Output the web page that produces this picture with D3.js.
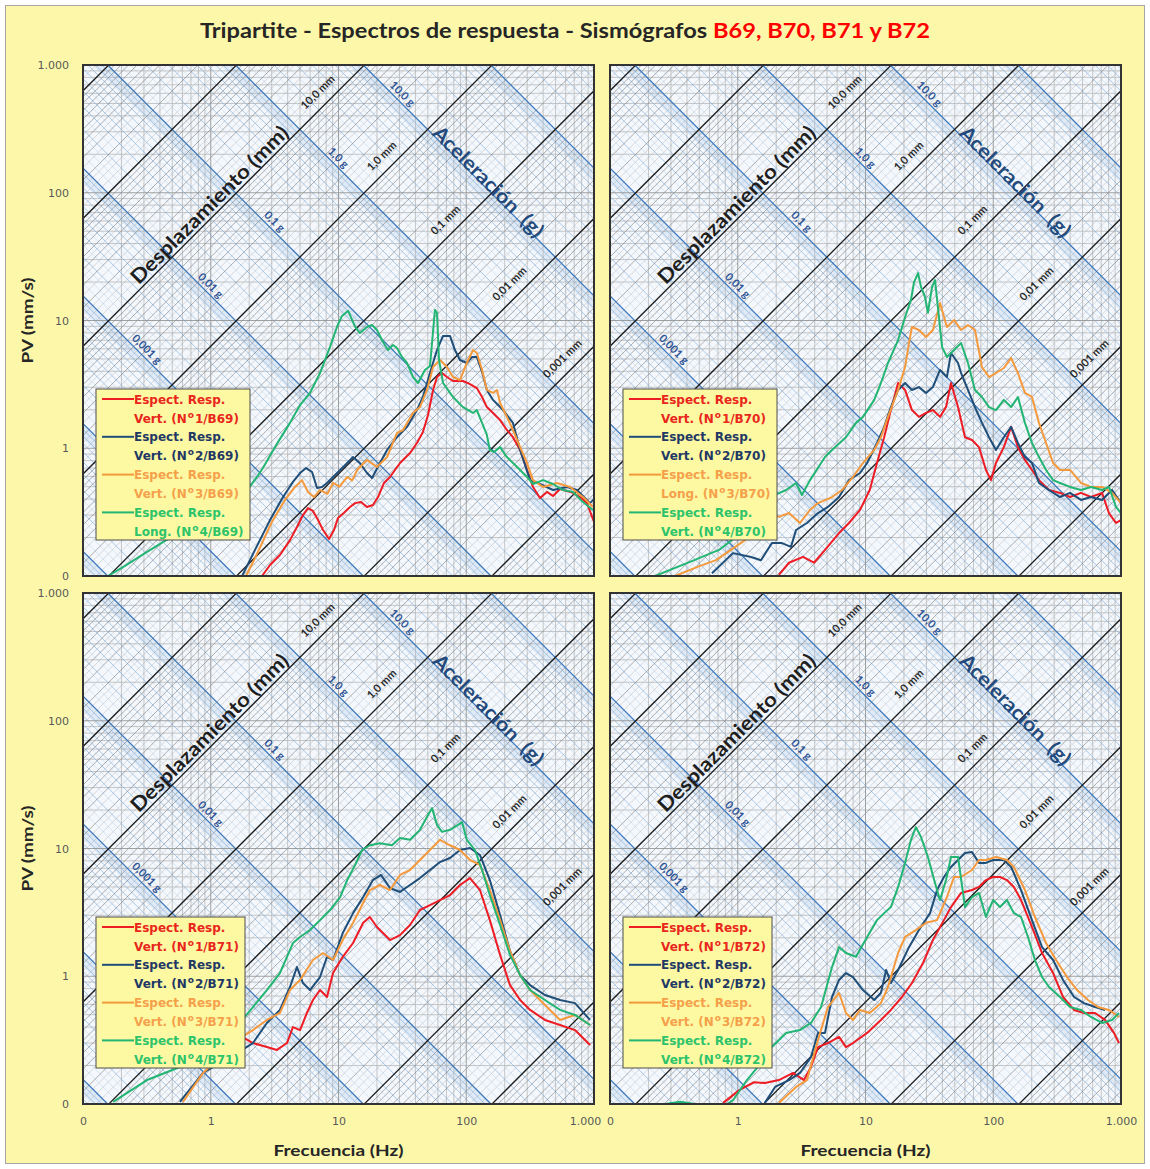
<!DOCTYPE html>
<html><head><meta charset="utf-8">
<script src="https://cdn.jsdelivr.net/npm/d3@7"></script>
<style>
body{margin:0;background:#fff;}
</style></head><body>
<svg id="chart" width="1150" height="1169"></svg>
<script>
// Response spectra, [frequency (Hz), pseudo-velocity (mm/s)]
const b69Red=[[2.52,0.1],[2.91,0.122],[3.48,0.146],[4.17,0.191],[4.73,0.242],[5.27,0.30],[5.77,0.34],[6.31,0.323],[6.92,0.274],[7.57,0.229],[8.43,0.195],[9.22,0.229],[9.91,0.284],[11.0,0.311],[12.3,0.347],[13.5,0.372],[15.0,0.379],[16.7,0.347],[18.6,0.36],[20.4,0.415],[22.7,0.535],[25.3,0.596],[30.3,0.767],[36.3,0.918],[41.1,1.10],[45.8,1.34],[50.2,1.82],[55.0,2.86],[59.0,3.61],[64.6,3.88],[70.6,3.61],[78.7,3.36],[94.3,3.36],[107,3.18],[121,2.96],[133,2.52],[145,2.10],[162,1.89],[184,1.66],[208,1.39],[232,1.22],[264,0.97],[299,0.676],[333,0.498],[378,0.408],[429,0.455],[478,0.423],[542,0.48],[615,0.463],[685,0.447],[777,0.415],[881,0.372],[1000,0.265]];
const b69Blue=[[1.76,0.1],[2.22,0.16],[2.91,0.274],[3.68,0.415],[4.40,0.545],[5.0,0.64],[5.57,0.70],[6.21,0.652],[6.79,0.489],[7.43,0.498],[8.13,0.535],[9.06,0.596],[10.3,0.676],[11.7,0.767],[13.0,0.853],[14.7,0.767],[16.7,0.64],[18.3,0.585],[21.1,0.767],[24.0,0.97],[28.7,1.22],[34.4,1.47],[41.1,1.99],[45.8,2.52],[52.0,3.88],[59.0,5.87],[65.8,7.57],[74.6,7.57],[81.6,5.87],[89.3,4.91],[101,4.65],[111,5.18],[121,5.18],[133,3.95],[145,2.86],[162,2.39],[194,1.99],[232,1.58],[264,0.97],[316,0.563],[378,0.525],[478,0.471],[615,0.498],[736,0.471],[931,0.372],[1000,0.40]];
const b69Orange=[[1.89,0.1],[2.34,0.154],[3.01,0.265],[3.81,0.394],[4.57,0.498],[5.18,0.563],[5.77,0.455],[6.43,0.415],[7.17,0.471],[8.2,0.44],[9.06,0.535],[10.2,0.50],[11.7,0.596],[12.8,0.56],[14.0,0.676],[16.7,0.81],[20.0,0.713],[24.0,0.853],[28.7,1.32],[32.0,1.39],[38.3,1.89],[43.4,2.10],[49.3,2.86],[55.0,4.32],[62.3,4.91],[70.6,4.32],[78.7,3.61],[89.3,3.42],[101,4.65],[113,5.87],[121,5.57],[133,4.10],[145,2.86],[162,2.71],[174,2.86],[184,2.26],[208,1.76],[232,1.39],[264,1.02],[299,0.767],[333,0.563],[399,0.498],[513,0.535],[649,0.498],[820,0.415],[982,0.347]];
const b69Green=[[0.157,0.1],[0.213,0.12],[0.306,0.151],[0.438,0.188],[0.688,0.238],[1.08,0.30],[1.69,0.394],[2.30,0.596],[2.56,0.70],[3.18,1.02],[4.17,1.58],[5.0,2.18],[5.98,2.71],[7.17,3.88],[8.58,6.21],[9.73,8.9],[10.6,10.8],[11.9,11.9],[13.5,8.9],[14.7,7.98],[16.7,8.9],[18.3,9.22],[20.0,8.43],[22.3,6.79],[24.4,5.87],[26.7,6.43],[28.7,6.09],[31.4,5.18],[34.4,4.65],[38.3,3.61],[41.9,3.24],[47.5,4.10],[52.0,4.40],[56.9,12.1],[59.0,11.5],[61.2,4.91],[65.8,3.24],[71.9,2.86],[78.7,2.52],[94.3,2.10],[113,1.89],[121,1.99],[133,1.58],[145,1.27],[153,0.97],[165,0.935],[184,1.02],[208,0.853],[250,0.713],[299,0.596],[333,0.525],[399,0.563],[478,0.525],[572,0.471],[685,0.455],[820,0.379],[982,0.329]];

const b70Red=[[2.10,0.102],[2.52,0.127],[3.24,0.141],[3.95,0.127],[4.82,0.16],[6.21,0.217],[7.43,0.26],[9.06,0.329],[10.8,0.471],[12.3,0.767],[14.0,1.22],[15.8,1.99],[18.0,3.24],[20.4,2.86],[23.1,1.99],[26.2,1.76],[29.8,1.89],[33.7,1.99],[38.3,1.76],[42.7,2.10],[46.7,3.24],[53.0,2.10],[60.1,1.22],[68.2,1.16],[77.3,1.02],[87.7,0.676],[95.9,0.563],[105,0.767],[121,1.02],[138,1.47],[156,1.02],[177,0.81],[201,0.676],[228,0.563],[273,0.471],[333,0.447],[399,0.415],[486,0.447],[582,0.415],[710,0.447],[805,0.311],[914,0.26],[1000,0.274]];
const b70Blue=[[0.628,0.105],[0.918,0.151],[1.27,0.141],[1.52,0.133],[1.85,0.181],[2.22,0.181],[2.61,0.169],[2.86,0.229],[3.48,0.26],[4.25,0.311],[5.08,0.347],[6.21,0.415],[7.43,0.563],[9.06,0.64],[10.3,0.767],[12.3,1.10],[14.0,1.47],[15.8,2.10],[18.0,2.86],[20.4,3.24],[23.1,2.86],[26.2,3.01],[29.8,2.71],[33.7,3.01],[38.3,4.10],[43.4,3.61],[46.7,5.57],[53.0,4.65],[56.0,3.88],[63.4,2.86],[71.9,2.10],[81.6,1.58],[92.7,1.22],[105,0.97],[121,1.22],[138,1.47],[156,1.10],[177,0.853],[201,0.767],[228,0.535],[273,0.471],[333,0.415],[399,0.447],[486,0.394],[582,0.415],[710,0.394],[851,0.471],[1000,0.372]];
const b70Orange=[[0.323,0.1],[0.507,0.12],[0.676,0.133],[1.14,0.191],[1.79,0.311],[2.10,0.29],[2.52,0.311],[3.07,0.26],[3.68,0.329],[4.25,0.372],[5.47,0.415],[6.55,0.471],[7.98,0.596],[9.55,0.767],[11.7,0.97],[13.2,1.22],[15.0,1.76],[18.0,2.86],[20.4,4.32],[21.9,6.67],[23.1,8.9],[26.2,8.43],[29.8,7.43],[33.7,8.43],[38.3,13.7],[43.4,8.9],[49.3,10.1],[56.0,8.43],[63.4,9.22],[71.9,8.43],[81.6,4.32],[92.7,3.61],[105,3.88],[121,4.25],[138,5.08],[156,3.88],[177,2.71],[201,2.52],[228,1.58],[259,1.10],[294,0.767],[333,0.676],[399,0.676],[486,0.535],[582,0.498],[710,0.498],[851,0.447],[1000,0.372]];
const b70Green=[[0.225,0.1],[0.423,0.129],[0.713,0.16],[1.14,0.229],[1.79,0.415],[2.39,0.471],[2.86,0.535],[3.18,0.431],[3.68,0.563],[4.82,0.853],[5.47,0.97],[7.03,1.22],[8.43,1.58],[9.55,1.76],[11.7,2.39],[13.2,3.24],[15.0,4.65],[18.0,7.03],[20.4,10.6],[22.7,14.5],[24.0,20.0],[25.8,23.5],[27.2,18.3],[29.2,15.3],[30.8,11.5],[33.2,18.3],[35.0,20.7],[37.6,10.6],[39.7,6.21],[43.4,5.18],[49.3,5.87],[56.0,6.67],[63.4,4.65],[71.9,2.86],[81.6,2.52],[92.7,2.10],[105,1.99],[121,2.39],[138,2.10],[156,2.52],[177,1.58],[201,1.10],[228,0.853],[259,0.676],[294,0.563],[333,0.535],[399,0.498],[486,0.471],[582,0.498],[710,0.471],[805,0.498],[914,0.347],[1000,0.311]];

const b71Red=[[1.08,0.347],[1.76,0.335],[2.14,0.30],[2.75,0.279],[3.30,0.265],[3.95,0.30],[4.40,0.40],[5.0,0.379],[5.66,0.516],[6.31,0.652],[7.17,0.78],[8.13,0.688],[9.06,1.06],[10.8,1.42],[13.0,1.82],[15.6,2.62],[17.6,2.91],[20.0,2.43],[25.3,1.92],[30.3,2.10],[36.3,2.52],[43.4,3.30],[52.0,3.61],[62.3,3.95],[74.6,4.32],[89.3,5.18],[107,5.87],[128,4.73],[153,2.75],[184,1.47],[220,0.853],[264,0.652],[316,0.545],[413,0.455],[542,0.415],[710,0.379],[931,0.29]];
const b71Blue=[[0.574,0.104],[0.869,0.175],[1.76,0.265],[2.14,0.30],[2.75,0.431],[3.48,0.545],[4.17,0.824],[4.73,1.18],[5.27,0.885],[5.98,0.78],[7.17,0.986],[8.13,1.42],[9.06,1.34],[10.8,2.18],[13.0,3.12],[15.6,4.17],[18.6,5.66],[21.5,6.21],[25.3,4.91],[30.3,4.57],[36.3,5.18],[43.4,5.87],[52.0,6.79],[62.3,7.83],[74.6,8.43],[89.3,9.73],[107,10.1],[128,8.9],[153,5.66],[184,3.01],[220,1.58],[264,1.02],[316,0.853],[413,0.713],[542,0.652],[710,0.616],[931,0.455]];
const b71Orange=[[0.606,0.104],[0.869,0.175],[1.76,0.335],[2.14,0.379],[2.75,0.455],[3.48,0.516],[4.17,0.78],[5.0,0.935],[6.31,1.34],[7.57,1.52],[9.06,1.34],[10.8,1.92],[13.0,2.62],[15.6,3.74],[17.6,4.73],[21.1,5.18],[25.3,4.73],[30.3,6.21],[36.3,6.79],[43.4,8.13],[52.0,9.73],[62.3,11.7],[74.6,10.6],[89.3,9.73],[107,8.13],[128,7.43],[153,4.73],[184,2.75],[220,1.58],[264,1.02],[316,0.78],[413,0.596],[542,0.455],[710,0.498],[931,0.415]];
const b71Green=[[0.172,0.104],[0.317,0.154],[0.574,0.195],[1.08,0.29],[1.76,0.455],[2.14,0.574],[2.75,0.78],[3.48,1.06],[3.95,1.42],[4.40,1.82],[5.0,2.03],[5.98,2.30],[7.17,2.75],[8.58,3.30],[10.3,4.17],[11.7,5.66],[13.5,7.43],[15.3,9.73],[17.6,10.6],[21.1,11.0],[26.2,10.6],[30.3,12.1],[36.3,11.7],[43.4,14.0],[50.2,18.3],[54.0,20.7],[59.0,15.3],[64.6,13.5],[74.6,14.0],[86.2,15.3],[92.7,16.1],[101,11.7],[117,9.73],[133,6.79],[153,4.32],[184,2.52],[220,1.47],[264,1.02],[316,0.78],[413,0.652],[542,0.545],[710,0.498],[931,0.415]];

const b72Red=[[0.768,0.102],[1.034,0.129],[1.34,0.148],[1.63,0.146],[2.10,0.154],[2.71,0.175],[3.30,0.154],[3.74,0.195],[4.25,0.279],[5.08,0.30],[6.21,0.335],[7.03,0.279],[7.98,0.30],[10.3,0.36],[13.2,0.455],[15.8,0.545],[19.3,0.688],[23.1,0.885],[28.2,1.27],[33.7,1.92],[41.1,2.75],[46.7,3.48],[56.0,4.49],[68.2,4.73],[77.3,5.0],[87.7,5.66],[99.6,5.98],[113,5.98],[128,5.66],[145,5.0],[165,3.95],[201,2.43],[241,1.52],[294,1.06],[352,0.688],[429,0.545],[513,0.516],[627,0.516],[750,0.455],[881,0.36],[964,0.30]];
const b72Blue=[[1.63,0.102],[1.96,0.136],[2.52,0.154],[3.07,0.175],[3.74,0.233],[4.25,0.36],[4.82,0.36],[5.47,0.688],[6.21,0.935],[7.03,1.06],[7.98,0.986],[9.55,0.78],[11.7,0.652],[13.2,0.74],[14.5,1.12],[15.8,0.885],[18.0,1.12],[21.9,1.69],[26.2,2.30],[32.0,3.12],[36.3,4.73],[41.1,5.98],[46.7,7.17],[53.0,8.13],[60.1,9.22],[68.2,9.4],[77.3,7.71],[87.7,7.71],[99.6,8.13],[121,8.13],[138,7.17],[165,4.73],[201,2.75],[241,1.69],[294,1.34],[352,0.935],[429,0.688],[513,0.616],[627,0.574],[750,0.545]];
const b72Orange=[[2.10,0.102],[2.86,0.136],[3.48,0.154],[4.25,0.317],[5.08,0.574],[6.21,0.74],[7.03,0.516],[7.98,0.455],[9.06,0.545],[10.8,0.516],[13.2,0.616],[15.0,0.824],[18.0,1.52],[20.4,2.03],[24.8,2.30],[29.8,2.62],[36.3,2.75],[43.4,4.17],[49.3,5.98],[56.0,5.98],[68.2,6.79],[77.3,8.13],[87.7,8.13],[105,8.58],[128,8.13],[145,7.17],[177,4.73],[212,2.91],[259,1.82],[310,1.34],[378,0.986],[453,0.78],[552,0.652],[661,0.574],[805,0.545],[964,0.48]];
const b72Green=[[0.27,0.1],[0.353,0.104],[0.463,0.1],[0.606,0.082],[0.918,0.107],[1.18,0.154],[1.52,0.209],[1.85,0.279],[2.39,0.36],[3.07,0.379],[3.74,0.431],[4.49,0.574],[5.47,1.18],[6.21,1.69],[7.03,1.52],[8.43,1.42],[10.3,2.03],[12.3,2.75],[14.0,3.12],[15.8,3.48],[18.0,5.0],[20.4,7.71],[22.7,11.7],[24.8,14.7],[27.2,12.3],[30.8,8.58],[35.0,5.37],[38.3,3.95],[42.7,5.66],[46.7,8.58],[53.0,8.58],[60.1,3.48],[68.2,4.17],[77.3,4.49],[87.7,2.91],[99.6,3.95],[113,3.48],[128,3.95],[145,3.12],[165,2.91],[187,2.03],[212,1.34],[241,0.986],[273,0.824],[333,0.688],[399,0.574],[486,0.545],[582,0.48],[710,0.431],[851,0.455],[964,0.516]];

const stations=["B69","B70","B71","B72"];
const directions=[["Vert.","Vert.","Vert.","Long."],["Vert.","Vert.","Long.","Vert."],["Vert.","Vert.","Vert.","Vert."],["Vert.","Vert.","Vert.","Vert."]];
const tickValues=[0.1,1,10,100,1000];
const tickLabels=["0","1","10","100","1.000"];
const dispValues=[10,1,0.1,0.01,0.001];
const dispLabels=["10,0 mm","1,0 mm","0,1 mm","0,01 mm","0,001 mm"];
const accValues=[10,1,0.1,0.01,0.001];
const accLabels=["10,0 g","1,0 g","0,1 g","0,01 g","0,001 g"];

const spectra=[
  [b69Red,b69Blue,b69Orange,b69Green],
  [b70Red,b70Blue,b70Orange,b70Green],
  [b71Red,b71Blue,b71Orange,b71Green],
  [b72Red,b72Blue,b72Orange,b72Green]
];
const lineColors=["#ee1c25","#1f4e79","#f59a3c","#22b573"];
const legendTextColors=["#e8261b","#1f3864","#f5a04a","#2cc36b"];

const SANS="Lato, 'Open Sans', sans-serif";
const VERD="'DejaVu Sans', Verdana, sans-serif";
const TWO_PI=2*Math.PI, G=9806.65; // g in mm/s^2
const svg=d3.select("#chart");
const PW=511, PH=511;
const panelPos=[{x:83,y:65},{x:610,y:65},{x:83,y:593},{x:610,y:593}];

// page background and frame
svg.append("rect").attr("width",1150).attr("height",1169).attr("fill","#ffffff");
svg.append("rect").attr("x",5.5).attr("y",5.5).attr("width",1139).attr("height",1158)
  .attr("fill","#fdf8a9").attr("stroke","#a6a6a6").attr("stroke-width",1);

// title
const title=svg.append("text").attr("x",200).attr("y",38).style("font-family",SANS)
  .attr("font-size",21).attr("font-weight",700).attr("textLength",730).attr("lengthAdjust","spacingAndGlyphs");
title.append("tspan").attr("fill","#262626").text("Tripartite - Espectros de respuesta - Sismógrafos ");
title.append("tspan").attr("fill","#ff0000").text("B69, B70, B71 y B72");

svg.append("defs").append("clipPath").attr("id","plotClip")
  .append("rect").attr("width",PW).attr("height",PH);

const x=d3.scaleLog().domain([0.1,1000]).range([0,PW]);
const y=d3.scaleLog().domain([0.1,1000]).range([PH,0]);
const line=d3.line().x(d=>x(d[0])).y(d=>y(d[1]));

const mant=[1,2,3,4,5,6,7,8,9];
const fineMant=[1.25,1.5,1.75,2.5,3.5,4.5];
const gridVals=[];
for(let k=-1;k<=2;k++) mant.forEach(m=>gridVals.push({v:m*Math.pow(10,k),major:m===1}));
gridVals.push({v:1000,major:true});
const diagVals=[], fineDiag=[];
for(let k=-7;k<=4;k++){
  mant.forEach(m=>diagVals.push({v:m*Math.pow(10,k),major:m===1}));
  fineMant.forEach(m=>fineDiag.push(m*Math.pow(10,k)));
}

const fLo=0.03, fHi=3000;
const accPts=A=>[[fLo,A*G/(TWO_PI*fLo)],[fHi,A*G/(TWO_PI*fHi)]];
const dispPts=D=>[[fLo,TWO_PI*fLo*D],[fHi,TWO_PI*fHi*D]];

panelPos.forEach((pos,pi)=>{
  const g=svg.append("g").attr("transform",`translate(${pos.x},${pos.y})`);
  const c=g.append("g").attr("clip-path","url(#plotClip)");
  c.append("rect").attr("width",PW).attr("height",PH).attr("fill","#f4f7fb");

  // soft blue bands along the major acceleration lines
  diagVals.filter(d=>d.major).forEach(d=>{
    c.append("path").attr("d",line(accPts(d.v)))
      .attr("transform","translate(-4,4)")
      .attr("stroke","#c9ddf1").attr("stroke-width",10).attr("opacity",0.5).attr("fill","none");
  });

  // log grid, minor
  gridVals.filter(d=>!d.major).forEach(d=>{
    c.append("line").attr("x1",x(d.v)).attr("x2",x(d.v)).attr("y1",0).attr("y2",PH)
      .attr("stroke","#b0b0b0").attr("stroke-width",0.7);
    c.append("line").attr("y1",y(d.v)).attr("y2",y(d.v)).attr("x1",0).attr("x2",PW)
      .attr("stroke","#b0b0b0").attr("stroke-width",0.7);
  });

  // fine diagonal hatching
  fineDiag.forEach(v=>{
    c.append("path").attr("d",line(accPts(v))).attr("stroke","#b5cfe9").attr("stroke-width",0.45).attr("fill","none");
    c.append("path").attr("d",line(dispPts(v))).attr("stroke","#a8a8a8").attr("stroke-width",0.4).attr("fill","none");
  });
  // acceleration lines (constant g), minor
  diagVals.filter(d=>!d.major).forEach(d=>{
    c.append("path").attr("d",line(accPts(d.v)))
      .attr("stroke","#86b3df").attr("stroke-width",0.7).attr("fill","none");
  });
  // displacement lines (constant mm), minor
  diagVals.filter(d=>!d.major).forEach(d=>{
    c.append("path").attr("d",line(dispPts(d.v)))
      .attr("stroke","#707070").attr("stroke-width",0.55).attr("fill","none");
  });

  gridVals.filter(d=>d.major).forEach(d=>{
    c.append("line").attr("x1",x(d.v)).attr("x2",x(d.v)).attr("y1",0).attr("y2",PH)
      .attr("stroke","#959595").attr("stroke-width",0.9);
    c.append("line").attr("y1",y(d.v)).attr("y2",y(d.v)).attr("x1",0).attr("x2",PW)
      .attr("stroke","#959595").attr("stroke-width",0.9);
  });
  diagVals.filter(d=>d.major).forEach(d=>{
    c.append("path").attr("d",line(accPts(d.v)))
      .attr("stroke","#3a78bd").attr("stroke-width",1.3).attr("fill","none");
  });
  diagVals.filter(d=>d.major).forEach(d=>{
    c.append("path").attr("d",line(dispPts(d.v)))
      .attr("stroke","#1c1c1c").attr("stroke-width",1.3).attr("fill","none");
  });

  // displacement labels, sitting on their lines
  dispValues.forEach((D,i)=>{
    let f=Math.sqrt(2.7*G/(TWO_PI*TWO_PI*D));
    if(x(f)>PW-22) f=x.invert(PW-22);
    const px=x(f)-7, py=y(TWO_PI*f*D)-7;
    g.append("text").attr("transform",`translate(${px},${py}) rotate(-45)`)
      .attr("text-anchor","middle").style("font-family",SANS).attr("font-size",11).attr("font-weight",700)
      .attr("fill","#2a2a2a").text(dispLabels[i]);
  });
  // acceleration labels
  accValues.forEach((A,i)=>{
    const f=Math.sqrt(A*G/(TWO_PI*TWO_PI*3));
    const px=x(f)+2.5, py=y(A*G/(TWO_PI*f))-2.5;
    g.append("text").attr("transform",`translate(${px},${py}) rotate(45)`)
      .attr("text-anchor","middle").style("font-family",SANS).attr("font-size",11).attr("font-weight",700)
      .attr("fill","#2f5597").text(accLabels[i]);
  });
  // axis names on the diagonals
  {
    const f=1.12, D=10;
    const px=x(f)-8.2, py=y(TWO_PI*f*D)-8.2;
    g.append("text").attr("transform",`translate(${px},${py}) rotate(-45)`)
      .attr("text-anchor","middle").attr("dominant-baseline","central").style("font-family",SANS)
      .attr("font-size",20).attr("font-weight",700).attr("fill","#1e1e1e")
      .attr("textLength",214).attr("lengthAdjust","spacingAndGlyphs").text("Desplazamiento (mm)");
  }
  {
    const f=138, A=10;
    const px=x(f)+5, py=y(A*G/(TWO_PI*f))-5;
    const t=g.append("text").attr("transform",`translate(${px},${py}) rotate(45)`)
      .attr("text-anchor","middle").attr("dominant-baseline","central").style("font-family",SANS)
      .attr("font-size",20).attr("font-weight",700).attr("fill","#234a7d")
      .attr("textLength",148).attr("lengthAdjust","spacingAndGlyphs");
    t.append("tspan").text("Aceleración");
    t.append("tspan").attr("dx",10).text("(g)");
  }

  // spectra
  spectra[pi].forEach((s,si)=>{
    c.append("path").attr("d",line(s)).attr("fill","none")
      .attr("stroke",lineColors[si]).attr("stroke-width",2).attr("stroke-linejoin","round");
  });

  // plot frame
  g.append("rect").attr("width",PW).attr("height",PH).attr("fill","none")
    .attr("stroke","#333").attr("stroke-width",2);

  // axes
  if(pi%2===0){
    const ax=d3.axisLeft(y).tickValues(tickValues).tickFormat((d,i)=>tickLabels[i]).tickSize(0).tickPadding(14);
    const ga=g.append("g").call(ax);
    ga.select(".domain").remove();
    ga.selectAll("text").style("font-family",VERD).attr("font-size",11).attr("fill","#595959");
    svg.append("text").attr("transform",`translate(33,${pos.y+PH/2}) rotate(-90)`)
      .attr("text-anchor","middle").style("font-family",SANS).attr("font-size",16).attr("font-weight",700).attr("fill","#262626")
      .attr("textLength",86).attr("lengthAdjust","spacingAndGlyphs").text("PV (mm/s)");
  }
  if(pi>=2){
    const ax=d3.axisBottom(x).tickValues(tickValues).tickFormat((d,i)=>tickLabels[i]).tickSize(0).tickPadding(13);
    const ga=g.append("g").attr("transform",`translate(0,${PH})`).call(ax);
    ga.select(".domain").remove();
    ga.selectAll("text").style("font-family",VERD).attr("font-size",11).attr("fill","#595959");
    if(pi===2) ga.selectAll("text").filter(d=>d===1000).attr("dx",-9);
    svg.append("text").attr("x",pos.x+PW/2).attr("y",1156)
      .attr("text-anchor","middle").style("font-family",SANS).attr("font-size",16).attr("font-weight",700).attr("fill","#262626")
      .attr("textLength",130).attr("lengthAdjust","spacingAndGlyphs").text("Frecuencia (Hz)");
  }

  // legend
  const lg=g.append("g").attr("transform","translate(13,324)");
  const box=lg.append("rect").attr("height",151).attr("fill","#fdf9a2").attr("stroke","#4d4d4d").attr("stroke-width",1);
  let maxW=0;
  lineColors.forEach((col,si)=>{
    const ry=10+si*37.8;
    lg.append("line").attr("x1",6).attr("x2",38).attr("y1",ry).attr("y2",ry).attr("stroke",col).attr("stroke-width",2);
    const t1=lg.append("text").attr("x",38).attr("y",ry+4.5)
      .style("font-family",VERD).attr("font-size",12).attr("font-weight",700)
      .attr("fill",legendTextColors[si]).text("Espect. Resp.");
    const t2=lg.append("text").attr("x",38).attr("y",ry+23.5)
      .style("font-family",VERD).attr("font-size",12).attr("font-weight",700)
      .attr("fill",legendTextColors[si]);
    t2.append("tspan").text(`${directions[pi][si]} (N`);
    t2.append("tspan").attr("font-size",9).attr("dx",1).attr("dy",-5).text("o");
    t2.append("tspan").attr("dx",1).attr("dy",5).text(`${si+1}/${stations[pi]})`);
    maxW=Math.max(maxW,t1.node().getComputedTextLength(),t2.node().getComputedTextLength()+2);
  });
  box.attr("width",Math.round(38+maxW+6));
});
</script>
</body></html>
